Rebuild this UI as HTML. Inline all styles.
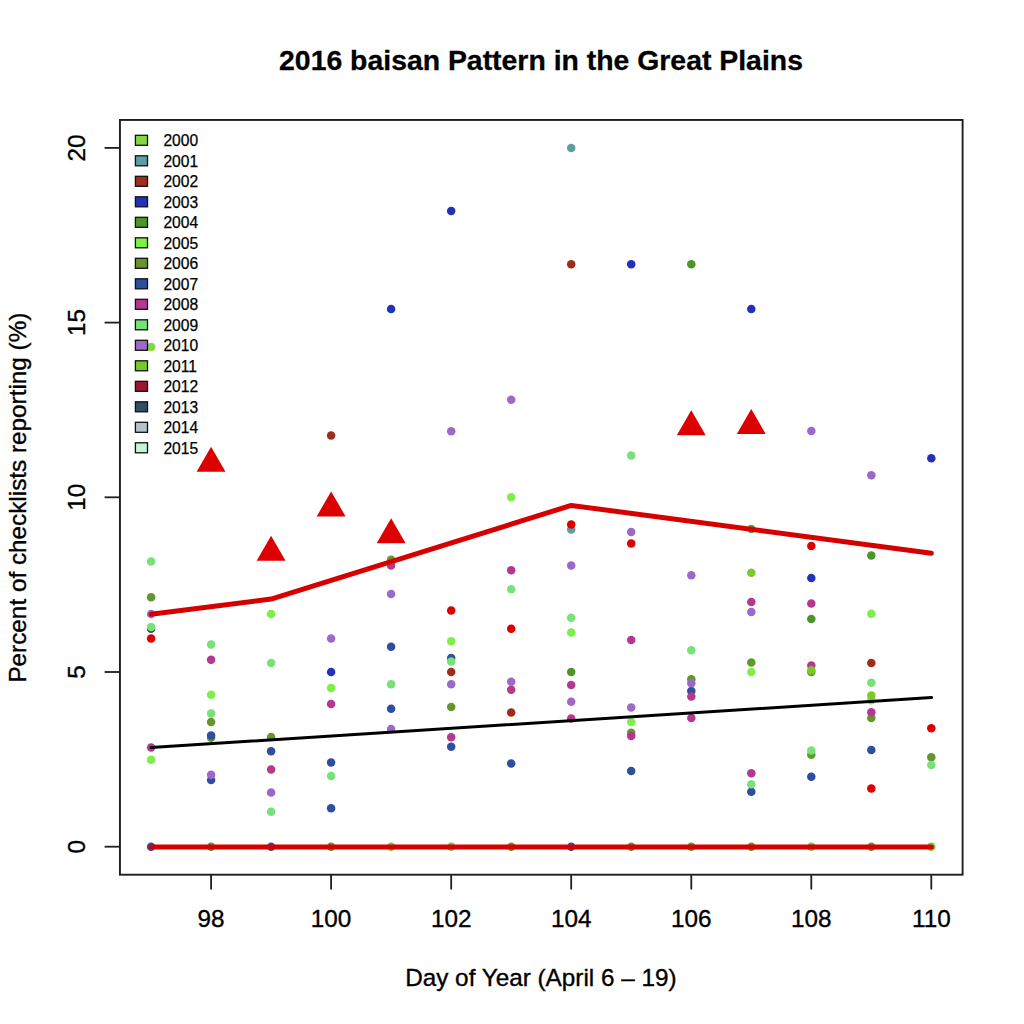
<!DOCTYPE html><html><head><meta charset="utf-8"><style>
html,body{margin:0;padding:0;background:#fff;}
svg{display:block;}
text{font-family:"Liberation Sans",sans-serif;fill:#000;}
</style></head><body>
<svg width="1024" height="1024" viewBox="0 0 1024 1024">
<rect width="1024" height="1024" fill="#fff"/>
<text x="541" y="69.7" text-anchor="middle" font-weight="bold" font-size="28.4" stroke="#000" stroke-width="0.3">2016 baisan Pattern in the Great Plains</text>
<text x="540.9" y="985.7" text-anchor="middle" font-size="24.3" stroke="#000" stroke-width="0.35">Day of Year (April 6 – 19)</text>
<text transform="translate(26.4,497.6) rotate(-90)" text-anchor="middle" font-size="24.3" stroke="#000" stroke-width="0.35">Percent of checklists reporting (%)</text>
<line x1="211.1" y1="874.7" x2="211.1" y2="889.5" stroke="#1e1e1e" stroke-width="1.8"/>
<text x="211.1" y="927.2" text-anchor="middle" font-size="24.3" stroke="#000" stroke-width="0.35">98</text>
<line x1="331.1" y1="874.7" x2="331.1" y2="889.5" stroke="#1e1e1e" stroke-width="1.8"/>
<text x="331.1" y="927.2" text-anchor="middle" font-size="24.3" stroke="#000" stroke-width="0.35">100</text>
<line x1="451.2" y1="874.7" x2="451.2" y2="889.5" stroke="#1e1e1e" stroke-width="1.8"/>
<text x="451.2" y="927.2" text-anchor="middle" font-size="24.3" stroke="#000" stroke-width="0.35">102</text>
<line x1="571.2" y1="874.7" x2="571.2" y2="889.5" stroke="#1e1e1e" stroke-width="1.8"/>
<text x="571.2" y="927.2" text-anchor="middle" font-size="24.3" stroke="#000" stroke-width="0.35">104</text>
<line x1="691.3" y1="874.7" x2="691.3" y2="889.5" stroke="#1e1e1e" stroke-width="1.8"/>
<text x="691.3" y="927.2" text-anchor="middle" font-size="24.3" stroke="#000" stroke-width="0.35">106</text>
<line x1="811.3" y1="874.7" x2="811.3" y2="889.5" stroke="#1e1e1e" stroke-width="1.8"/>
<text x="811.3" y="927.2" text-anchor="middle" font-size="24.3" stroke="#000" stroke-width="0.35">108</text>
<line x1="931.3" y1="874.7" x2="931.3" y2="889.5" stroke="#1e1e1e" stroke-width="1.8"/>
<text x="931.3" y="927.2" text-anchor="middle" font-size="24.3" stroke="#000" stroke-width="0.35">110</text>
<line x1="104.6" y1="846.7" x2="119.95" y2="846.7" stroke="#1e1e1e" stroke-width="1.8"/>
<text transform="translate(84.8,846.7) rotate(-90)" text-anchor="middle" font-size="24.3" stroke="#000" stroke-width="0.35">0</text>
<line x1="104.6" y1="672.0" x2="119.95" y2="672.0" stroke="#1e1e1e" stroke-width="1.8"/>
<text transform="translate(84.8,672.0) rotate(-90)" text-anchor="middle" font-size="24.3" stroke="#000" stroke-width="0.35">5</text>
<line x1="104.6" y1="497.3" x2="119.95" y2="497.3" stroke="#1e1e1e" stroke-width="1.8"/>
<text transform="translate(84.8,497.3) rotate(-90)" text-anchor="middle" font-size="24.3" stroke="#000" stroke-width="0.35">10</text>
<line x1="104.6" y1="322.6" x2="119.95" y2="322.6" stroke="#1e1e1e" stroke-width="1.8"/>
<text transform="translate(84.8,322.6) rotate(-90)" text-anchor="middle" font-size="24.3" stroke="#000" stroke-width="0.35">15</text>
<line x1="104.6" y1="147.9" x2="119.95" y2="147.9" stroke="#1e1e1e" stroke-width="1.8"/>
<text transform="translate(84.8,147.9) rotate(-90)" text-anchor="middle" font-size="24.3" stroke="#000" stroke-width="0.35">20</text>
<circle cx="151.1" cy="628.7" r="4.25" fill="#2D5064"/>
<circle cx="151.1" cy="347.1" r="4.25" fill="#82D83E"/>
<circle cx="151.1" cy="759.7" r="4.25" fill="#7CF046"/>
<circle cx="151.1" cy="597.2" r="4.25" fill="#64962D"/>
<circle cx="151.1" cy="846.7" r="4.25" fill="#2F4E9E"/>
<circle cx="151.1" cy="747.5" r="4.25" fill="#B53890"/>
<circle cx="151.1" cy="561.6" r="4.25" fill="#78E178"/>
<circle cx="151.1" cy="626.9" r="4.25" fill="#78E178"/>
<circle cx="151.1" cy="614.0" r="4.25" fill="#9E68CA"/>
<circle cx="151.1" cy="638.5" r="4.25" fill="#DD0000"/>
<circle cx="211.1" cy="713.6" r="4.25" fill="#78E178"/>
<circle cx="211.1" cy="694.7" r="4.25" fill="#7CF046"/>
<circle cx="211.1" cy="722.0" r="4.25" fill="#64962D"/>
<circle cx="211.1" cy="737.7" r="4.25" fill="#64962D"/>
<circle cx="211.1" cy="846.7" r="4.25" fill="#64962D"/>
<circle cx="211.1" cy="735.6" r="4.25" fill="#2F4E9E"/>
<circle cx="211.1" cy="780.0" r="4.25" fill="#2F4E9E"/>
<circle cx="211.1" cy="659.8" r="4.25" fill="#B53890"/>
<circle cx="211.1" cy="644.4" r="4.25" fill="#78E178"/>
<circle cx="211.1" cy="774.7" r="4.25" fill="#9E68CA"/>
<circle cx="271.1" cy="614.0" r="4.25" fill="#7CF046"/>
<circle cx="271.1" cy="737.0" r="4.25" fill="#64962D"/>
<circle cx="271.1" cy="751.3" r="4.25" fill="#2F4E9E"/>
<circle cx="271.1" cy="846.7" r="4.25" fill="#2F4E9E"/>
<circle cx="271.1" cy="769.5" r="4.25" fill="#B53890"/>
<circle cx="271.1" cy="662.9" r="4.25" fill="#78E178"/>
<circle cx="271.1" cy="811.8" r="4.25" fill="#78E178"/>
<circle cx="271.1" cy="792.5" r="4.25" fill="#9E68CA"/>
<circle cx="331.1" cy="435.5" r="4.25" fill="#A02D19"/>
<circle cx="331.1" cy="672.0" r="4.25" fill="#2232B8"/>
<circle cx="331.1" cy="688.1" r="4.25" fill="#7CF046"/>
<circle cx="331.1" cy="846.7" r="4.25" fill="#64962D"/>
<circle cx="331.1" cy="762.5" r="4.25" fill="#2F4E9E"/>
<circle cx="331.1" cy="808.3" r="4.25" fill="#2F4E9E"/>
<circle cx="331.1" cy="704.1" r="4.25" fill="#B53890"/>
<circle cx="331.1" cy="776.1" r="4.25" fill="#78E178"/>
<circle cx="331.1" cy="638.5" r="4.25" fill="#9E68CA"/>
<circle cx="391.1" cy="309.0" r="4.25" fill="#2232B8"/>
<circle cx="391.1" cy="559.8" r="4.25" fill="#64962D"/>
<circle cx="391.1" cy="646.8" r="4.25" fill="#2F4E9E"/>
<circle cx="391.1" cy="708.7" r="4.25" fill="#2F4E9E"/>
<circle cx="391.1" cy="565.4" r="4.25" fill="#B53890"/>
<circle cx="391.1" cy="684.2" r="4.25" fill="#78E178"/>
<circle cx="391.1" cy="594.1" r="4.25" fill="#9E68CA"/>
<circle cx="391.1" cy="729.0" r="4.25" fill="#9E68CA"/>
<circle cx="391.1" cy="846.7" r="4.25" fill="#7CC828"/>
<circle cx="451.2" cy="672.0" r="4.25" fill="#A02D19"/>
<circle cx="451.2" cy="211.1" r="4.25" fill="#2232B8"/>
<circle cx="451.2" cy="641.3" r="4.25" fill="#7CF046"/>
<circle cx="451.2" cy="706.9" r="4.25" fill="#64962D"/>
<circle cx="451.2" cy="658.0" r="4.25" fill="#2F4E9E"/>
<circle cx="451.2" cy="746.8" r="4.25" fill="#2F4E9E"/>
<circle cx="451.2" cy="737.3" r="4.25" fill="#B53890"/>
<circle cx="451.2" cy="661.5" r="4.25" fill="#78E178"/>
<circle cx="451.2" cy="431.3" r="4.25" fill="#9E68CA"/>
<circle cx="451.2" cy="684.2" r="4.25" fill="#9E68CA"/>
<circle cx="451.2" cy="846.7" r="4.25" fill="#7CC828"/>
<circle cx="451.2" cy="610.5" r="4.25" fill="#DD0000"/>
<circle cx="511.2" cy="712.5" r="4.25" fill="#A02D19"/>
<circle cx="511.2" cy="497.3" r="4.25" fill="#7CF046"/>
<circle cx="511.2" cy="846.7" r="4.25" fill="#64962D"/>
<circle cx="511.2" cy="763.5" r="4.25" fill="#2F4E9E"/>
<circle cx="511.2" cy="570.3" r="4.25" fill="#B53890"/>
<circle cx="511.2" cy="689.8" r="4.25" fill="#B53890"/>
<circle cx="511.2" cy="589.2" r="4.25" fill="#78E178"/>
<circle cx="511.2" cy="399.8" r="4.25" fill="#9E68CA"/>
<circle cx="511.2" cy="681.8" r="4.25" fill="#9E68CA"/>
<circle cx="511.2" cy="628.7" r="4.25" fill="#DD0000"/>
<circle cx="571.2" cy="147.9" r="4.25" fill="#5F9EA0"/>
<circle cx="571.2" cy="529.4" r="4.25" fill="#5F9EA0"/>
<circle cx="571.2" cy="264.3" r="4.25" fill="#A02D19"/>
<circle cx="571.2" cy="672.0" r="4.25" fill="#4B9628"/>
<circle cx="571.2" cy="632.5" r="4.25" fill="#7CF046"/>
<circle cx="571.2" cy="846.7" r="4.25" fill="#2F4E9E"/>
<circle cx="571.2" cy="684.9" r="4.25" fill="#B53890"/>
<circle cx="571.2" cy="718.5" r="4.25" fill="#B53890"/>
<circle cx="571.2" cy="617.8" r="4.25" fill="#78E178"/>
<circle cx="571.2" cy="565.4" r="4.25" fill="#9E68CA"/>
<circle cx="571.2" cy="701.7" r="4.25" fill="#9E68CA"/>
<circle cx="571.2" cy="524.6" r="4.25" fill="#DD0000"/>
<circle cx="631.2" cy="264.3" r="4.25" fill="#2232B8"/>
<circle cx="631.2" cy="722.0" r="4.25" fill="#7CF046"/>
<circle cx="631.2" cy="732.8" r="4.25" fill="#64962D"/>
<circle cx="631.2" cy="846.7" r="4.25" fill="#64962D"/>
<circle cx="631.2" cy="770.9" r="4.25" fill="#2F4E9E"/>
<circle cx="631.2" cy="639.9" r="4.25" fill="#B53890"/>
<circle cx="631.2" cy="735.9" r="4.25" fill="#B53890"/>
<circle cx="631.2" cy="455.4" r="4.25" fill="#78E178"/>
<circle cx="631.2" cy="531.9" r="4.25" fill="#9E68CA"/>
<circle cx="631.2" cy="707.6" r="4.25" fill="#9E68CA"/>
<circle cx="631.2" cy="543.4" r="4.25" fill="#DD0000"/>
<circle cx="691.3" cy="264.3" r="4.25" fill="#4B9628"/>
<circle cx="691.3" cy="679.3" r="4.25" fill="#64962D"/>
<circle cx="691.3" cy="846.7" r="4.25" fill="#64962D"/>
<circle cx="691.3" cy="690.9" r="4.25" fill="#2F4E9E"/>
<circle cx="691.3" cy="696.5" r="4.25" fill="#B53890"/>
<circle cx="691.3" cy="718.1" r="4.25" fill="#B53890"/>
<circle cx="691.3" cy="650.3" r="4.25" fill="#78E178"/>
<circle cx="691.3" cy="575.2" r="4.25" fill="#9E68CA"/>
<circle cx="691.3" cy="683.2" r="4.25" fill="#9E68CA"/>
<circle cx="751.3" cy="309.0" r="4.25" fill="#2232B8"/>
<circle cx="751.3" cy="672.0" r="4.25" fill="#7CF046"/>
<circle cx="751.3" cy="529.1" r="4.25" fill="#64962D"/>
<circle cx="751.3" cy="662.6" r="4.25" fill="#64962D"/>
<circle cx="751.3" cy="846.7" r="4.25" fill="#64962D"/>
<circle cx="751.3" cy="791.8" r="4.25" fill="#2F4E9E"/>
<circle cx="751.3" cy="602.1" r="4.25" fill="#B53890"/>
<circle cx="751.3" cy="773.3" r="4.25" fill="#B53890"/>
<circle cx="751.3" cy="784.2" r="4.25" fill="#78E178"/>
<circle cx="751.3" cy="611.9" r="4.25" fill="#9E68CA"/>
<circle cx="751.3" cy="572.8" r="4.25" fill="#7CC828"/>
<circle cx="811.3" cy="578.0" r="4.25" fill="#2232B8"/>
<circle cx="811.3" cy="618.9" r="4.25" fill="#4B9628"/>
<circle cx="811.3" cy="672.0" r="4.25" fill="#64962D"/>
<circle cx="811.3" cy="754.8" r="4.25" fill="#64962D"/>
<circle cx="811.3" cy="776.8" r="4.25" fill="#2F4E9E"/>
<circle cx="811.3" cy="603.5" r="4.25" fill="#B53890"/>
<circle cx="811.3" cy="665.4" r="4.25" fill="#B53890"/>
<circle cx="811.3" cy="750.6" r="4.25" fill="#78E178"/>
<circle cx="811.3" cy="430.9" r="4.25" fill="#9E68CA"/>
<circle cx="811.3" cy="670.3" r="4.25" fill="#7CC828"/>
<circle cx="811.3" cy="846.7" r="4.25" fill="#7CC828"/>
<circle cx="811.3" cy="545.9" r="4.25" fill="#DD0000"/>
<circle cx="871.3" cy="662.9" r="4.25" fill="#A02D19"/>
<circle cx="871.3" cy="555.6" r="4.25" fill="#4B9628"/>
<circle cx="871.3" cy="613.7" r="4.25" fill="#7CF046"/>
<circle cx="871.3" cy="718.1" r="4.25" fill="#64962D"/>
<circle cx="871.3" cy="846.7" r="4.25" fill="#64962D"/>
<circle cx="871.3" cy="749.9" r="4.25" fill="#2F4E9E"/>
<circle cx="871.3" cy="712.2" r="4.25" fill="#B53890"/>
<circle cx="871.3" cy="682.8" r="4.25" fill="#78E178"/>
<circle cx="871.3" cy="700.3" r="4.25" fill="#78E178"/>
<circle cx="871.3" cy="475.3" r="4.25" fill="#9E68CA"/>
<circle cx="871.3" cy="695.4" r="4.25" fill="#7CC828"/>
<circle cx="871.3" cy="788.4" r="4.25" fill="#DD0000"/>
<circle cx="931.3" cy="458.2" r="4.25" fill="#2232B8"/>
<circle cx="931.3" cy="757.3" r="4.25" fill="#64962D"/>
<circle cx="931.3" cy="764.9" r="4.25" fill="#78E178"/>
<circle cx="931.3" cy="846.7" r="4.25" fill="#7CC828"/>
<circle cx="931.3" cy="728.3" r="4.25" fill="#DD0000"/>
<polygon points="211.07,446.70 225.52,471.70 196.62,471.70" fill="#DD0000"/>
<polygon points="271.10,535.80 285.55,560.80 256.65,560.80" fill="#DD0000"/>
<polygon points="331.12,491.40 345.57,516.40 316.67,516.40" fill="#DD0000"/>
<polygon points="391.14,518.30 405.59,543.30 376.69,543.30" fill="#DD0000"/>
<polygon points="691.26,410.20 705.71,435.20 676.81,435.20" fill="#DD0000"/>
<polygon points="751.28,408.90 765.73,433.90 736.83,433.90" fill="#DD0000"/>
<line x1="151.05" y1="747.5" x2="931.55" y2="697.6" stroke="#000" stroke-width="3.0" stroke-linecap="round"/>
<polyline points="151.05,614.2 271.10,599.1 571.21,505.4 931.35,553.2" fill="none" stroke="#D60000" stroke-width="5.0" stroke-linecap="round" stroke-linejoin="round"/>
<line x1="151.05" y1="846.9" x2="931.35" y2="846.9" stroke="#D60000" stroke-width="5.0" stroke-linecap="round"/>
<rect x="135.4" y="135.30" width="12.1" height="10.0" fill="#82D83E" stroke="#111" stroke-width="1.3"/>
<text x="163.4" y="146.20" font-size="15.6" stroke="#000" stroke-width="0.25">2000</text>
<rect x="135.4" y="155.80" width="12.1" height="10.0" fill="#5F9EA0" stroke="#111" stroke-width="1.3"/>
<text x="163.4" y="166.70" font-size="15.6" stroke="#000" stroke-width="0.25">2001</text>
<rect x="135.4" y="176.30" width="12.1" height="10.0" fill="#A02D19" stroke="#111" stroke-width="1.3"/>
<text x="163.4" y="187.20" font-size="15.6" stroke="#000" stroke-width="0.25">2002</text>
<rect x="135.4" y="196.80" width="12.1" height="10.0" fill="#2232B8" stroke="#111" stroke-width="1.3"/>
<text x="163.4" y="207.70" font-size="15.6" stroke="#000" stroke-width="0.25">2003</text>
<rect x="135.4" y="217.30" width="12.1" height="10.0" fill="#4B9628" stroke="#111" stroke-width="1.3"/>
<text x="163.4" y="228.20" font-size="15.6" stroke="#000" stroke-width="0.25">2004</text>
<rect x="135.4" y="237.80" width="12.1" height="10.0" fill="#7CF046" stroke="#111" stroke-width="1.3"/>
<text x="163.4" y="248.70" font-size="15.6" stroke="#000" stroke-width="0.25">2005</text>
<rect x="135.4" y="258.30" width="12.1" height="10.0" fill="#64962D" stroke="#111" stroke-width="1.3"/>
<text x="163.4" y="269.20" font-size="15.6" stroke="#000" stroke-width="0.25">2006</text>
<rect x="135.4" y="278.80" width="12.1" height="10.0" fill="#2F4E9E" stroke="#111" stroke-width="1.3"/>
<text x="163.4" y="289.70" font-size="15.6" stroke="#000" stroke-width="0.25">2007</text>
<rect x="135.4" y="299.30" width="12.1" height="10.0" fill="#B53890" stroke="#111" stroke-width="1.3"/>
<text x="163.4" y="310.20" font-size="15.6" stroke="#000" stroke-width="0.25">2008</text>
<rect x="135.4" y="319.80" width="12.1" height="10.0" fill="#78E178" stroke="#111" stroke-width="1.3"/>
<text x="163.4" y="330.70" font-size="15.6" stroke="#000" stroke-width="0.25">2009</text>
<rect x="135.4" y="340.30" width="12.1" height="10.0" fill="#9E68CA" stroke="#111" stroke-width="1.3"/>
<text x="163.4" y="351.20" font-size="15.6" stroke="#000" stroke-width="0.25">2010</text>
<rect x="135.4" y="360.80" width="12.1" height="10.0" fill="#7CC828" stroke="#111" stroke-width="1.3"/>
<text x="163.4" y="371.70" font-size="15.6" stroke="#000" stroke-width="0.25">2011</text>
<rect x="135.4" y="381.30" width="12.1" height="10.0" fill="#A01432" stroke="#111" stroke-width="1.3"/>
<text x="163.4" y="392.20" font-size="15.6" stroke="#000" stroke-width="0.25">2012</text>
<rect x="135.4" y="401.80" width="12.1" height="10.0" fill="#2D5064" stroke="#111" stroke-width="1.3"/>
<text x="163.4" y="412.70" font-size="15.6" stroke="#000" stroke-width="0.25">2013</text>
<rect x="135.4" y="422.30" width="12.1" height="10.0" fill="#B4C3C8" stroke="#111" stroke-width="1.3"/>
<text x="163.4" y="433.20" font-size="15.6" stroke="#000" stroke-width="0.25">2014</text>
<rect x="135.4" y="442.80" width="12.1" height="10.0" fill="#C3F5D7" stroke="#111" stroke-width="1.3"/>
<text x="163.4" y="453.70" font-size="15.6" stroke="#000" stroke-width="0.25">2015</text>
<rect x="119.95" y="119.95" width="842.65" height="754.75" fill="none" stroke="#1e1e1e" stroke-width="1.9"/>
</svg></body></html>
